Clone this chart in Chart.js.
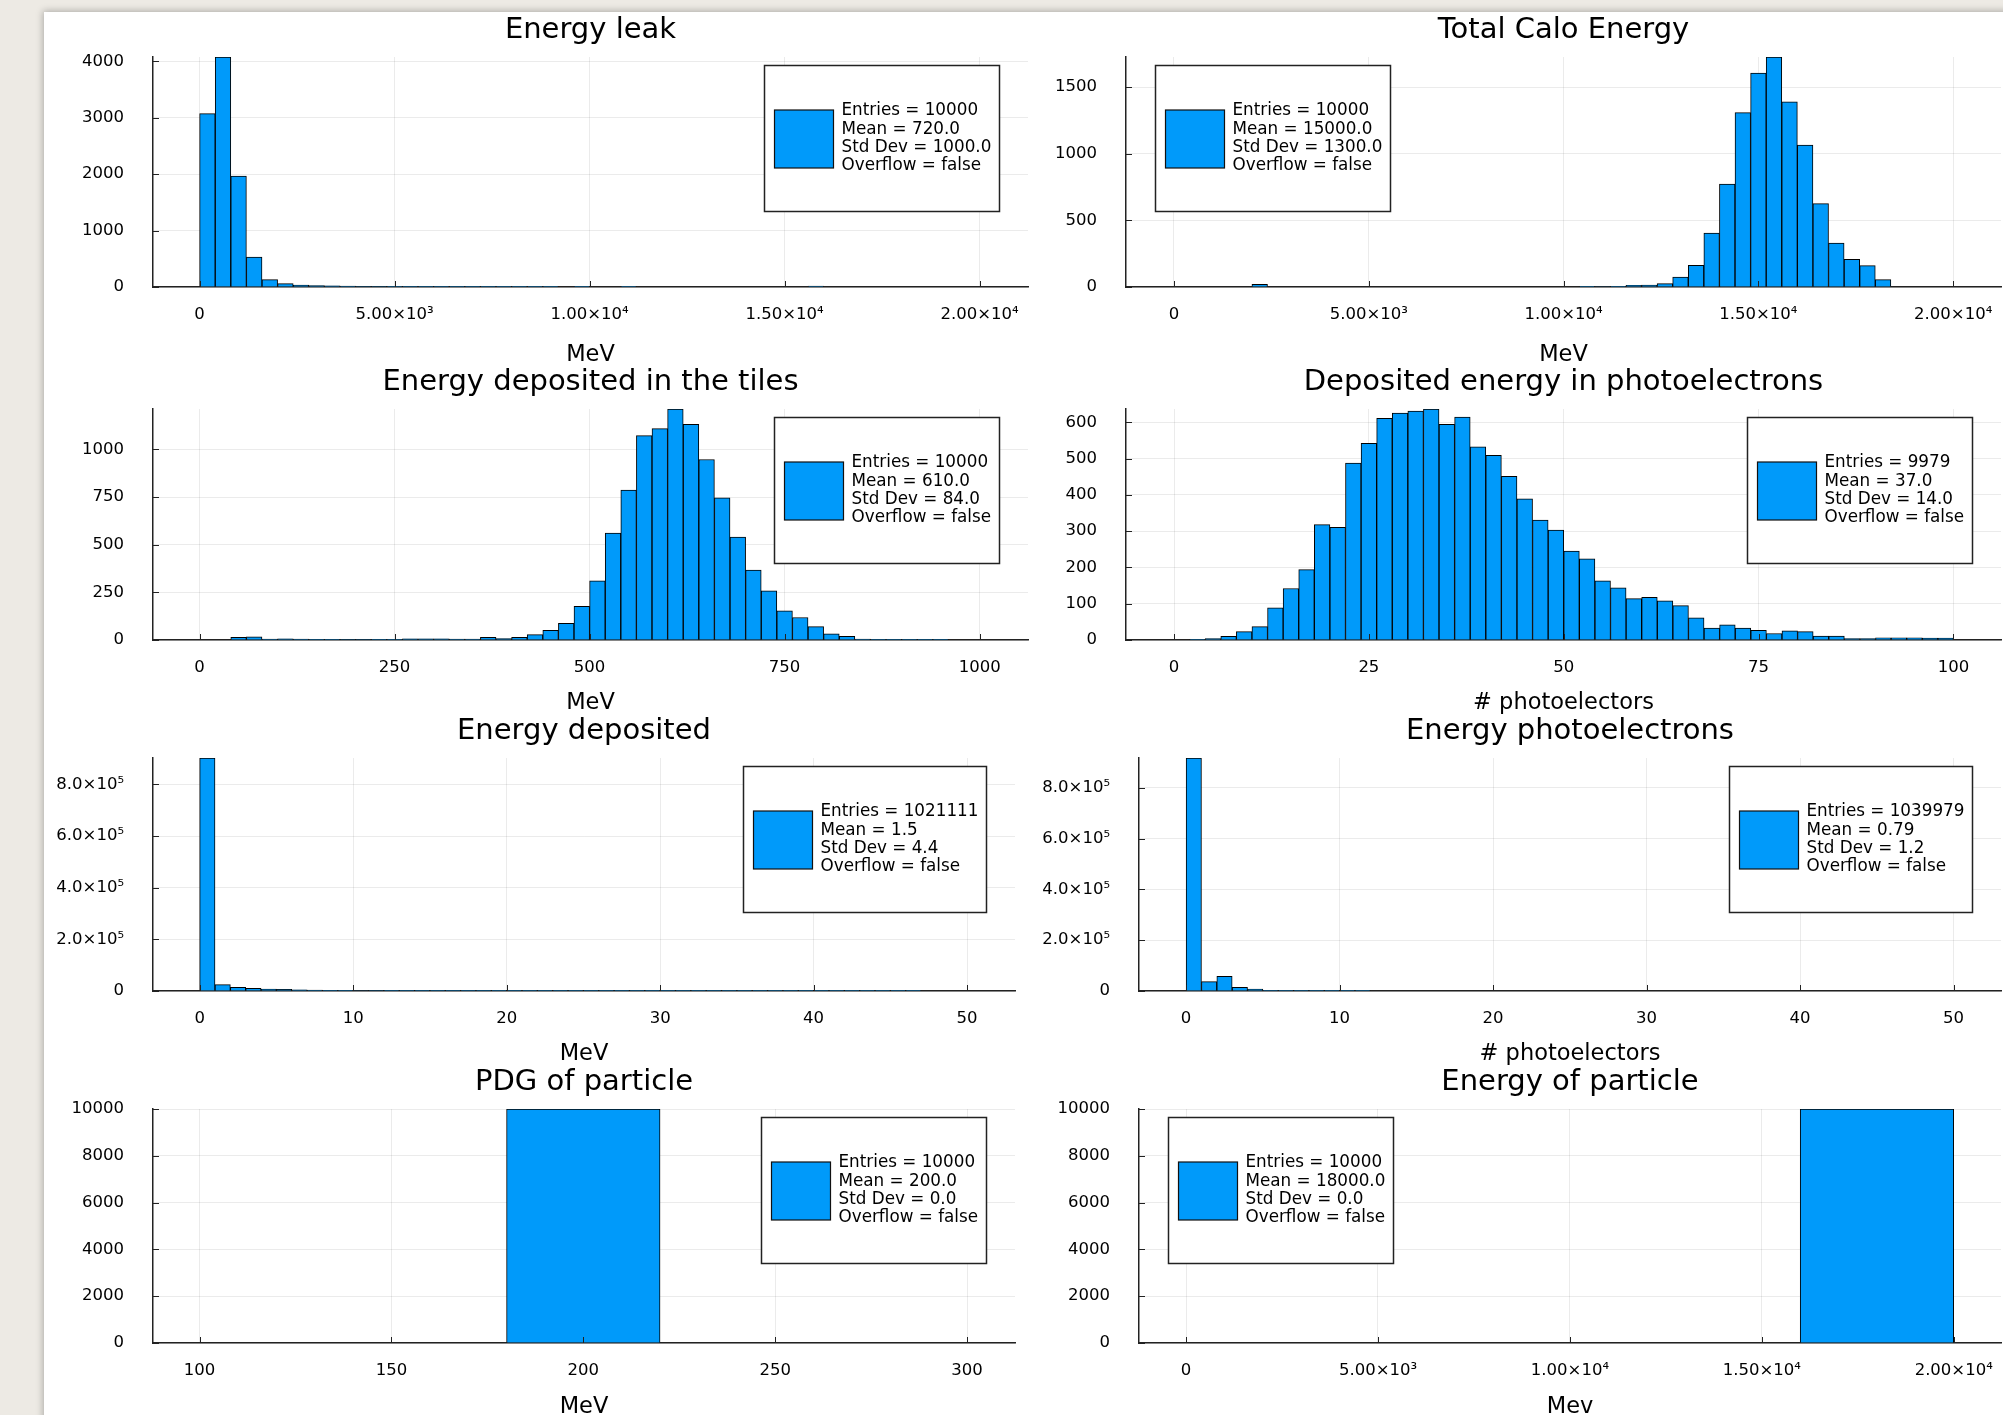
<!DOCTYPE html>
<html>
<head>
<meta charset="utf-8">
<script src="https://cdn.jsdelivr.net/npm/chart.js@4.4.0/dist/chart.umd.min.js"></script>
<style>
  html, body { margin: 0; padding: 0; }
  body { width: 2003px; height: 1415px; overflow: hidden; position: relative; background: #edeae4; }
  #sheet { position: absolute; left: 44px; top: 12px; width: 2010px; height: 1420px; background: #fff;
           box-shadow: 0 0 7px 1px rgba(0,0,0,0.28); }
  canvas { position: absolute; }
</style>
</head>
<body>
<div id="sheet"></div>
<script>
const BLUE = '#009AFA';
const FONT = '"DejaVu Sans", sans-serif';

// histogram contents, one value per bin
const leakStart = 0, leakWidth = 400;
const leakCounts = [3071, 4075, 1967, 532, 130, 59, 35, 25, 20, 15,
                    10, 8, 6, 5, 4, 3, 3, 2, 2, 1,
                    1, 1, 1, 0, 1, 0, 0, 1, 0, 0,
                    0, 0, 0, 0, 0, 0, 0, 0, 0, 15,
                    0, 0, 0, 0, 0, 0, 0, 0, 0, 0];
const leakStats = ['Entries = 10000', 'Mean = 720.0', 'Std Dev = 1000.0', 'Overflow = false'];

const caloStart = 0, caloWidth = 400;
const caloCounts = [0, 0, 0, 0, 0, 20, 0, 0, 0, 0,
                    0, 0, 0, 0, 0, 0, 0, 0, 0, 0,
                    0, 0, 0, 0, 0, 0, 3, 4, 5, 12,
                    15, 25, 75, 162, 404, 773, 1309, 1606, 1726, 1389,
                    1065, 626, 329, 207, 160, 55, 0, 0, 0, 0];
const caloStats = ['Entries = 10000', 'Mean = 15000.0', 'Std Dev = 1300.0', 'Overflow = false'];

const tilesStart = 0, tilesWidth = 20;
const tilesCounts = [0, 0, 14, 17, 5, 6, 5, 1, 4, 3,
                     3, 4, 4, 6, 6, 6, 5, 5, 14, 7,
                     14, 28, 51, 88, 177, 310, 561, 786, 1072, 1109,
                     1212, 1132, 947, 746, 540, 367, 258, 153, 118, 70,
                     33, 19, 5, 4, 2, 1, 2, 1, 0, 0];
const tilesStats = ['Entries = 10000', 'Mean = 610.0', 'Std Dev = 84.0', 'Overflow = false'];

const peStart = 0, peWidth = 2;
const peCounts = [0, 2, 4, 10, 23, 37, 89, 142, 194, 318,
                  311, 488, 542, 611, 626, 631, 637, 595, 615, 533,
                  509, 451, 389, 331, 303, 245, 224, 163, 144, 114,
                  118, 108, 95, 61, 33, 42, 33, 27, 18, 25,
                  23, 11, 11, 4, 4, 6, 6, 6, 5, 5];
const peStats = ['Entries = 9979', 'Mean = 37.0', 'Std Dev = 14.0', 'Overflow = false'];

const edepStart = 0, edepWidth = 1;
const edepCounts = [902000, 24500, 14000, 10000, 7700, 6000, 4500, 3500, 3000, 2500,
                    2000, 1700, 1400, 1200, 1000, 800, 600, 500, 400, 300,
                    250, 200, 150, 120, 100, 80, 60, 50, 40, 30,
                    25, 20, 15, 12, 10, 8, 6, 5, 4, 3,
                    3, 2, 2, 1, 1, 1, 1, 0, 0, 0];
const edepStats = ['Entries = 1021111', 'Mean = 1.5', 'Std Dev = 4.4', 'Overflow = false'];

const ephStart = 0, ephWidth = 1;
const ephCounts = [917000, 36700, 57600, 14400, 7900, 1500, 300, 100, 50, 20,
                   10, 5, 0, 0, 0, 0, 0, 0, 0, 0,
                   0, 0, 0, 0, 0, 0, 0, 0, 0, 0,
                   0, 0, 0, 0, 0, 0, 0, 0, 0, 0,
                   0, 0, 0, 0, 0, 0, 0, 0, 0, 0];
const ephStats = ['Entries = 1039979', 'Mean = 0.79', 'Std Dev = 1.2', 'Overflow = false'];

const pdgStart = 100, pdgWidth = 40;
const pdgCounts = [0, 0, 10000, 0, 0];
const pdgStats = ['Entries = 10000', 'Mean = 200.0', 'Std Dev = 0.0', 'Overflow = false'];

const epartStart = 0, epartWidth = 4000;
const epartCounts = [0, 0, 0, 0, 10000];
const epartStats = ['Entries = 10000', 'Mean = 18000.0', 'Std Dev = 0.0', 'Overflow = false'];

// tick values and labels
const energyTicks = [0, 5000, 10000, 15000, 20000];
const energyTickLabels = ['0', '5.00×10³', '1.00×10⁴', '1.50×10⁴', '2.00×10⁴'];
const tilesTicks = [0, 250, 500, 750, 1000];
const peTicks = [0, 25, 50, 75, 100];
const smallTicks = [0, 10, 20, 30, 40, 50];
const pdgTicks = [100, 150, 200, 250, 300];
const leakYTicks = [0, 1000, 2000, 3000, 4000];
const caloYTicks = [0, 500, 1000, 1500];
const tilesYTicks = [0, 250, 500, 750, 1000];
const peYTicks = [0, 100, 200, 300, 400, 500, 600];
const bigYTicks = [0, 200000, 400000, 600000, 800000];
const bigYTickLabels = ['0', '2.0×10⁵', '4.0×10⁵', '6.0×10⁵', '8.0×10⁵'];
const countYTicks = [0, 2000, 4000, 6000, 8000, 10000];

// short tick marks pointing into the plot, like the GR backend
const innerTicks = {
  id: 'innerTicks',
  afterDatasetsDraw(chart) {
    const {ctx, chartArea: a, scales: {x, y}} = chart;
    ctx.save();
    ctx.strokeStyle = '#222';
    ctx.lineWidth = 1;
    ctx.beginPath();
    x.ticks.forEach(t => {
      const px = Math.round(x.getPixelForValue(t.value)) + 0.5;
      ctx.moveTo(px, a.bottom); ctx.lineTo(px, a.bottom - 6);
    });
    y.ticks.forEach(t => {
      const py = Math.round(y.getPixelForValue(t.value)) + 0.5;
      ctx.moveTo(a.left, py); ctx.lineTo(a.left + 6, py);
    });
    ctx.stroke();
    ctx.restore();
  }
};

// the statistics box used as legend
const statsBox = {
  id: 'statsBox',
  afterDraw(chart, args, opts) {
    const {ctx, chartArea: a} = chart;
    ctx.save();
    ctx.font = '16.8px ' + FONT;
    const tw = Math.max(...opts.lines.map(l => ctx.measureText(l).width));
    const w = Math.round(10 + 59 + 8 + tw + 8);
    const h = 146;
    const x = Math.round(opts.side === 'left' ? a.left + 29 : a.right - 29.5 - w) + 0.5;
    const y = Math.round(a.top + 7.5) + 0.5;
    ctx.fillStyle = '#fff';
    ctx.fillRect(x, y, w, h);
    ctx.strokeStyle = '#222';
    ctx.lineWidth = 1.5;
    ctx.strokeRect(x, y, w, h);
    const sy = Math.round(y + h / 2 - 29);
    ctx.fillStyle = BLUE;
    ctx.fillRect(x + 10, sy, 59, 58);
    ctx.lineWidth = 1.2;
    ctx.strokeStyle = '#111';
    ctx.strokeRect(x + 10, sy, 59, 58);
    ctx.fillStyle = '#000';
    ctx.textAlign = 'left';
    ctx.textBaseline = 'middle';
    opts.lines.forEach((l, i) => ctx.fillText(l, x + 77, y + h / 2 + (i - 1.5) * 18.3));
    ctx.restore();
  }
};

// xh = height of the x axis box (tick labels + axis title)
const panels = [
  {title: 'Energy leak', xTitle: 'MeV', start: leakStart, width: leakWidth, counts: leakCounts, stats: leakStats, side: 'right',
   xMin: -1195, xMax: 21241, xTicks: energyTicks, xLabels: energyTickLabels, yTicks: leakYTicks, yLabels: leakYTicks.map(String),
   L: 153, T: 57, R: 1028, B: 287, xh: 86},
  {title: 'Total Calo Energy', xTitle: 'MeV', start: caloStart, width: caloWidth, counts: caloCounts, stats: caloStats, side: 'left',
   xMin: -1232, xMax: 21227, xTicks: energyTicks, xLabels: energyTickLabels, yTicks: caloYTicks, yLabels: caloYTicks.map(String),
   L: 1126, T: 57, R: 2001, B: 287, xh: 86},
  {title: 'Energy deposited in the tiles', xTitle: 'MeV', start: tilesStart, width: tilesWidth, counts: tilesCounts, stats: tilesStats, side: 'right',
   xMin: -59.7, xMax: 1062, xTicks: tilesTicks, xLabels: tilesTicks.map(String), yTicks: tilesYTicks, yLabels: tilesYTicks.map(String),
   L: 153, T: 409, R: 1028, B: 640, xh: 81},
  {title: 'Deposited energy in photoelectrons', xTitle: '# photoelectors', start: peStart, width: peWidth, counts: peCounts, stats: peStats, side: 'right',
   xMin: -6.16, xMax: 106.1, xTicks: peTicks, xLabels: peTicks.map(String), yTicks: peYTicks, yLabels: peYTicks.map(String),
   L: 1126, T: 409, R: 2001, B: 640, xh: 81},
  {title: 'Energy deposited', xTitle: 'MeV', start: edepStart, width: edepWidth, counts: edepCounts, stats: edepStats, side: 'right',
   xMin: -3.04, xMax: 53.12, xTicks: smallTicks, xLabels: smallTicks.map(String), yTicks: bigYTicks, yLabels: bigYTickLabels,
   L: 153, T: 758, R: 1015, B: 991, xh: 81},
  {title: 'Energy photoelectrons', xTitle: '# photoelectors', start: ephStart, width: ephWidth, counts: ephCounts, stats: ephStats, side: 'right',
   xMin: -3.07, xMax: 53.09, xTicks: smallTicks, xLabels: smallTicks.map(String), yTicks: bigYTicks, yLabels: bigYTickLabels,
   L: 1139, T: 758, R: 2001, B: 991, xh: 81},
  {title: 'PDG of particle', xTitle: 'MeV', start: pdgStart, width: pdgWidth, counts: pdgCounts, stats: pdgStats, side: 'right',
   xMin: 87.86, xMax: 312.5, xTicks: pdgTicks, xLabels: pdgTicks.map(String), yTicks: countYTicks, yLabels: countYTicks.map(String),
   L: 153, T: 1109, R: 1015, B: 1343, xh: 82},
  {title: 'Energy of particle', xTitle: 'Mev', start: epartStart, width: epartWidth, counts: epartCounts, stats: epartStats, side: 'left',
   xMin: -1227, xMax: 21232, xTicks: energyTicks, xLabels: energyTickLabels, yTicks: countYTicks, yLabels: countYTicks.map(String),
   L: 1139, T: 1109, R: 2001, B: 1343, xh: 82}
];

const Y_AXIS_W = 110, TITLE_H = 50, RIGHT_PAD = 40;

function makeChart(p) {
  const cv = document.createElement('canvas');
  cv.width = (p.R - p.L) + Y_AXIS_W + RIGHT_PAD;
  cv.height = TITLE_H + (p.B - p.T) + p.xh;
  cv.style.left = (p.L - Y_AXIS_W) + 'px';
  cv.style.top = (p.T - TITLE_H) + 'px';
  document.body.appendChild(cv);

  const points = p.counts.map((c, k) => ({x: p.start + (k + 0.5) * p.width, y: c}));

  new Chart(cv, {
    type: 'bar',
    data: {
      datasets: [{
        data: points,
        backgroundColor: BLUE,
        borderColor: '#000',
        borderWidth: 1,
        barPercentage: 1,
        categoryPercentage: 1
      }]
    },
    options: {
      responsive: false,
      animation: false,
      devicePixelRatio: 1,
      layout: {padding: {left: 0, right: RIGHT_PAD, top: 0, bottom: 0}},
      plugins: {
        legend: {display: false},
        tooltip: {enabled: false},
        title: {
          display: true, text: p.title, color: '#000', fullSize: false,
          font: {family: FONT, size: 29, weight: 'normal', lineHeight: '36px'},
          padding: {top: 5, bottom: 9}
        },
        statsBox: {lines: p.stats, side: p.side}
      },
      scales: {
        x: {
          type: 'linear', min: p.xMin, max: p.xMax, offset: false,
          grid: {offset: false, color: 'rgba(0,0,0,0.08)', drawTicks: false},
          border: {color: '#222', width: 1.5},
          afterBuildTicks: s => { s.ticks = p.xTicks.map(v => ({value: v})); },
          afterFit: s => { s.height = p.xh; },
          ticks: {
            autoSkip: false, maxRotation: 0, padding: 17.5, color: '#000',
            font: {family: FONT, size: 16.5},
            callback: v => p.xLabels[p.xTicks.indexOf(v)]
          },
          title: {
            display: true, text: p.xTitle, color: '#000',
            font: {family: FONT, size: 22.5, lineHeight: '27px'}, padding: {top: 0, bottom: 4}
          }
        },
        y: {
          type: 'linear', min: 0, max: Math.max(...p.counts),
          grid: {color: 'rgba(0,0,0,0.08)', drawTicks: false},
          border: {color: '#222', width: 1.5},
          afterBuildTicks: s => { s.ticks = p.yTicks.map(v => ({value: v})); },
          afterFit: s => { s.width = Y_AXIS_W; },
          ticks: {
            autoSkip: false, padding: 29, color: '#000',
            font: {family: FONT, size: 16.5},
            callback: v => p.yLabels[p.yTicks.indexOf(v)]
          }
        }
      }
    },
    plugins: [innerTicks, statsBox]
  });
}

panels.forEach(makeChart);
</script>
</body>
</html>
